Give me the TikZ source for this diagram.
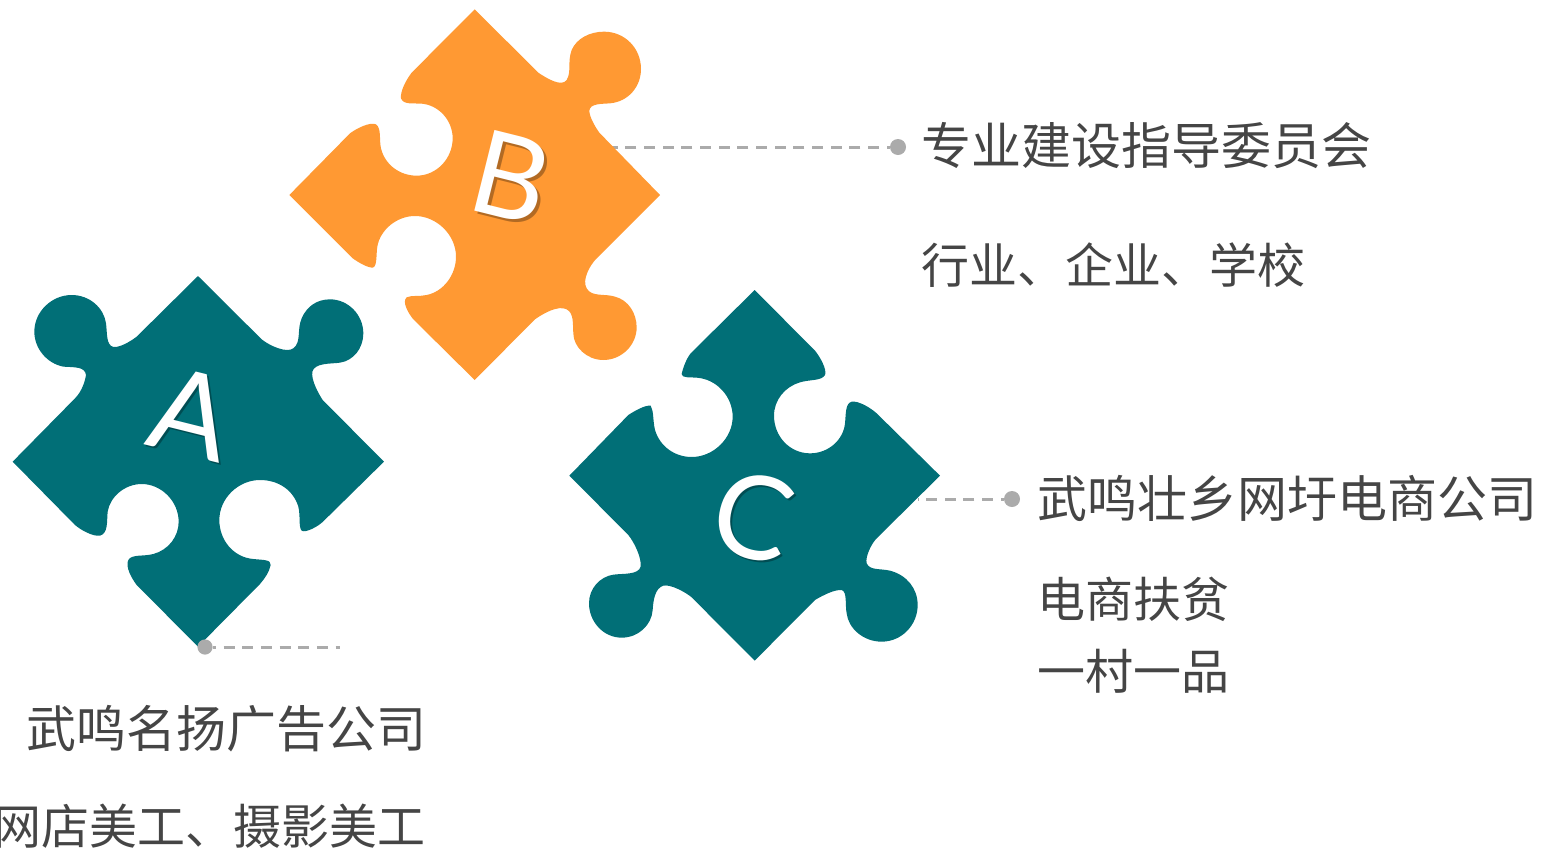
\documentclass[tikz,border=0pt]{standalone}
\usepackage{fontspec}
\setmainfont{Lato}
\newfontfamily\cjk{Noto Sans CJK SC}
\definecolor{teal}{HTML}{016F77}
\definecolor{orange}{HTML}{FF9933}
\definecolor{dotgrey}{HTML}{ABABAB}
\definecolor{txt}{HTML}{454545}
\tikzset{
  piece/.style={draw=none},
  leader/.style={draw=dotgrey,line width=1.5pt,dash pattern=on 5.5pt off 3.83pt,dash phase=4pt},
  dotnode/.style={circle,fill=dotgrey,draw=none,inner sep=0pt,minimum size=8pt},
  lab/.style={anchor=base west,inner sep=0pt,text=txt,font=\cjk\fontsize{25}{30}\selectfont},
  labs/.style={anchor=base west,inner sep=0pt,text=txt,font=\cjk\fontsize{24}{30}\selectfont},
  letter/.style={inner sep=0pt,rotate=-14,text=white,font=\fontsize{58}{70}\selectfont},
  lettershadow/.style={inner sep=0pt,rotate=-14,text=black,opacity=0.3,font=\fontsize{58}{70}\selectfont}
}
\begin{document}
\begin{tikzpicture}[x=0.5pt,y=-0.5pt]
\useasboundingbox (0,0) rectangle (1543,852);
% anchors of the connectors
\coordinate (bstart) at (612,147);
\coordinate (cstart) at (918,499);
\coordinate (aend) at (340,647);
\node[dotnode] (bdot) at (898,147) {};
\node[dotnode] (cdot) at (1012,499) {};
\draw[leader] (bdot) -- (bstart);
\draw[leader] (cdot) -- (cstart);
% Piece B
\begin{scope}[shift={(280,0)},scale=0.33333]
\fill[orange,piece] (584,28) -- (775,218)
.. controls (800,235) and (845,262) .. (860,240)
.. controls (875,215) and (862,185) .. (875,150)
.. controls (890,115) and (930,95) .. (972,95)
.. controls (1035,95) and (1083,145) .. (1083,207)
.. controls (1083,260) and (1045,305) .. (990,310)
.. controls (965,312) and (930,310) .. (928,332)
.. controls (928,350) and (945,380) .. (958,398)
-- (1140,585) -- (950,775)
.. controls (930,795) and (905,840) .. (920,865)
.. controls (935,892) and (975,880) .. (1005,890)
.. controls (1045,900) and (1070,940) .. (1070,982)
.. controls (1070,1035) and (1025,1080) .. (970,1080)
.. controls (920,1080) and (880,1040) .. (880,1000)
.. controls (878,970) and (882,940) .. (860,928)
.. controls (835,915) and (790,940) .. (765,958)
-- (584,1140) -- (400,958)
.. controls (385,940) and (365,905) .. (380,892)
.. controls (395,885) and (420,890) .. (440,885)
.. controls (490,875) and (528,825) .. (528,770)
.. controls (528,705) and (470,648) .. (405,648)
.. controls (350,648) and (300,690) .. (292,740)
.. controls (288,765) and (292,800) .. (278,803)
.. controls (262,803) and (235,787) .. (218,775)
-- (28,585) -- (210,400)
.. controls (230,385) and (270,365) .. (288,373)
.. controls (305,385) and (297,420) .. (303,445)
.. controls (315,495) and (360,527) .. (410,527)
.. controls (470,527) and (518,475) .. (518,415)
.. controls (518,360) and (475,315) .. (425,311)
.. controls (400,309) and (370,315) .. (363,295)
.. controls (360,275) and (378,240) .. (395,218)
-- cycle;
\end{scope}
% Piece A
\begin{scope}[shift={(0,270)},scale=0.33333]
\fill[teal,piece] (594,18) -- (785,208)
.. controls (810,228) and (860,250) .. (880,235)
.. controls (905,215) and (890,180) .. (905,145)
.. controls (920,110) and (950,88) .. (990,88)
.. controls (1045,88) and (1090,135) .. (1090,190)
.. controls (1090,235) and (1060,272) .. (1020,278)
.. controls (990,282) and (945,278) .. (937,305)
.. controls (933,330) and (955,370) .. (968,390)
-- (1152,575) -- (972,752)
.. controls (955,770) and (915,790) .. (905,782)
.. controls (895,770) and (902,740) .. (895,710)
.. controls (880,660) and (835,630) .. (780,630)
.. controls (715,630) and (658,685) .. (658,750)
.. controls (658,810) and (700,862) .. (760,867)
.. controls (785,870) and (815,868) .. (812,885)
.. controls (808,905) and (795,925) .. (780,942)
-- (594,1130) -- (410,945)
.. controls (395,925) and (375,890) .. (385,870)
.. controls (395,852) and (430,860) .. (460,852)
.. controls (505,840) and (536,800) .. (536,755)
.. controls (536,695) and (485,642) .. (425,642)
.. controls (375,642) and (330,680) .. (323,725)
.. controls (320,755) and (325,790) .. (300,797)
.. controls (280,800) and (245,782) .. (225,765)
-- (38,575) -- (225,385)
.. controls (245,365) and (255,335) .. (258,315)
.. controls (255,290) and (225,292) .. (190,290)
.. controls (140,280) and (103,235) .. (103,185)
.. controls (103,125) and (155,75) .. (215,75)
.. controls (270,75) and (312,115) .. (318,160)
.. controls (322,190) and (318,225) .. (340,231)
.. controls (360,233) and (390,215) .. (410,200)
-- cycle;
\end{scope}
% Piece C
\begin{scope}[shift={(560,280)},scale=0.33333]
\fill[teal,piece] (584,30) -- (765,212)
.. controls (780,230) and (802,270) .. (795,285)
.. controls (785,303) and (750,298) .. (720,307)
.. controls (675,320) and (642,360) .. (642,407)
.. controls (642,470) and (690,520) .. (750,520)
.. controls (805,520) and (850,480) .. (855,430)
.. controls (858,405) and (855,370) .. (875,365)
.. controls (895,362) and (930,382) .. (950,400)
-- (1140,587) -- (950,775)
.. controls (935,790) and (915,830) .. (920,850)
.. controls (930,872) and (960,865) .. (990,872)
.. controls (1040,885) and (1073,925) .. (1073,975)
.. controls (1073,1035) and (1025,1085) .. (965,1085)
.. controls (910,1085) and (865,1045) .. (860,1000)
.. controls (855,975) and (862,935) .. (845,930)
.. controls (825,928) and (790,945) .. (765,960)
-- (584,1142) -- (395,952)
.. controls (375,935) and (330,912) .. (310,917)
.. controls (285,925) and (280,960) .. (278,990)
.. controls (275,1035) and (235,1073) .. (185,1073)
.. controls (130,1073) and (87,1025) .. (87,970)
.. controls (87,925) and (120,890) .. (160,884)
.. controls (190,880) and (235,885) .. (242,860)
.. controls (245,835) and (225,790) .. (205,765)
-- (28,587) -- (205,405)
.. controls (225,392) and (255,375) .. (272,377)
.. controls (282,395) and (278,420) .. (285,450)
.. controls (300,500) and (345,531) .. (395,531)
.. controls (460,531) and (518,475) .. (518,410)
.. controls (518,350) and (470,297) .. (410,293)
.. controls (390,291) and (365,295) .. (365,282)
.. controls (370,260) and (380,235) .. (392,220)
-- cycle;
\end{scope}
% A's connector lies over its piece
\node[dotnode,minimum size=7.6pt] (adot) at (205,647) {};
\draw[leader] (adot) -- (aend);
% Letters
\node[lettershadow] (ashadow) at (193.5,416) {A};
\node[letter] (aletter) at (191.5,414) {A};
\node[lettershadow] (bshadow) at (514,180) {B};
\node[letter] (bletter) at (511,177) {B};
\node[lettershadow] (cshadow) at (755,519) {C};
\node[letter] (cletter) at (753,517) {C};
% Texts
\node[lab] (t1) at (921,164.5) {专业建设指导委员会};
\node[labs] (t2) at (921,283) {行业、企业、学校};
\node[lab] (t3) at (1037,517) {武鸣壮乡网圩电商公司};
\node[labs] (t4) at (1037,617) {电商扶贫};
\node[labs] (t5) at (1037,689) {一村一品};
\node[lab] (t6) at (26,747) {武鸣名扬广告公司};
\node[labs] (t7) at (-7,844) {网店美工、摄影美工};
\end{tikzpicture}
\end{document}
